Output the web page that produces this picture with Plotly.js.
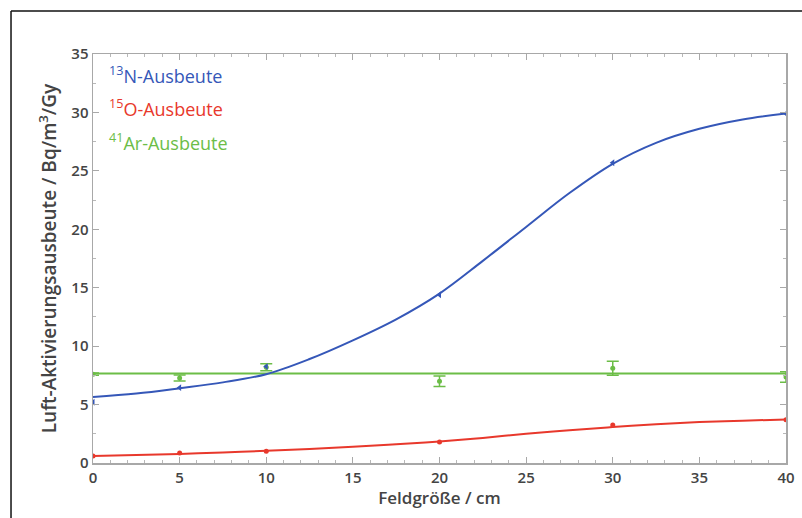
<!DOCTYPE html>
<html><head><meta charset="utf-8">
<script src="https://cdn.plot.ly/plotly-3.0.1.min.js"></script>
<style>html,body{margin:0;padding:0;background:#fff}#chart{width:802px;height:518px}</style>
</head><body><div id="chart"></div>
<script>
// Measured points
const xPts = [0, 5, 10, 20, 30, 40];
const nYield = [5.2, 6.45, 8.25, 14.4, 25.7, 29.9];
const oYield = [0.6, 0.85, 1.0, 1.8, 3.25, 3.7];
const arYield = [7.6, 7.27, 8.2, 7.0, 8.1, 7.35];
const arErr = [0.1, 0.25, 0.3, 0.45, 0.6, 0.45];
// Fitted curves
const xFit = [0, 2.5, 5, 7.5, 10, 12.5, 15, 17.5, 20, 22.5, 25, 27.5, 30, 32.5, 35, 37.5, 40];
const nFit = [5.65, 5.95, 6.4, 6.9, 7.6, 8.9, 10.5, 12.3, 14.5, 17.3, 20.2, 23.1, 25.6, 27.4, 28.6, 29.4, 29.9];
const oFit = [0.6, 0.68, 0.78, 0.9, 1.05, 1.2, 1.4, 1.6, 1.85, 2.15, 2.5, 2.8, 3.08, 3.32, 3.5, 3.62, 3.72];
const arFitX = [0, 40];
const arFit = [7.65, 7.65];
const xTicks = [0, 5, 10, 15, 20, 25, 30, 35, 40];
const yTicks = [0, 5, 10, 15, 20, 25, 30, 35];
const legendLabels = ['<sup>13</sup>N-Ausbeute', '<sup>15</sup>O-Ausbeute', '<sup>41</sup>Ar-Ausbeute'];

const cN = '#3557b8', cO = '#e8382c', cAr = '#6cbd47';
const FONT = 'Open Sans, sans-serif';

const traces = [
  {x: arFitX, y: arFit, mode: 'lines', line: {color: cAr, width: 2}},
  {x: xFit, y: oFit, mode: 'lines', line: {color: cO, width: 2, shape: 'spline'}},
  {x: xFit, y: nFit, mode: 'lines', line: {color: cN, width: 2, shape: 'spline'}},
  {x: xPts, y: arYield, mode: 'markers', marker: {color: cAr, size: 5},
   error_y: {type: 'data', array: arErr, visible: true, color: cAr, thickness: 1.5, width: 6}},
  {x: xPts, y: oYield, mode: 'markers', marker: {color: cO, size: 5}},
  {x: xPts, y: nYield, mode: 'markers', marker: {color: cN, size: 6, symbol: 'triangle-left'}}
];

const axisCommon = {
  showgrid: false, zeroline: false, showline: true, mirror: 'ticks',
  linecolor: '#a8a8a8', linewidth: 1.5, ticks: 'inside', ticklen: 6, tickcolor: '#a8a8a8',
  tickfont: {family: FONT, size: 15, color: '#444', weight: 600}
};

const layout = {
  width: 802, height: 518,
  margin: {l: 93, r: 16, t: 54, b: 55},
  paper_bgcolor: '#fff', plot_bgcolor: '#fff',
  showlegend: false,
  xaxis: Object.assign({}, axisCommon, {
    range: [0, 40], tickvals: xTicks, ticktext: xTicks.map(String),
    minor: {dtick: 1, ticks: 'inside', ticklen: 3, tickcolor: '#b8b8b8'},
    title: {text: 'Feldgröße / cm', standoff: 5, font: {family: FONT, size: 17, color: '#444', weight: 600}}
  }),
  yaxis: Object.assign({}, axisCommon, {
    range: [0, 35], tickvals: yTicks, ticktext: yTicks.map(String),
    minor: {dtick: 2.5, ticks: 'inside', ticklen: 3, tickcolor: '#b8b8b8'},
    title: {text: 'Luft-Aktivierungsausbeute / Bq/m<sup>3</sup>/Gy', standoff: 9, font: {family: FONT, size: 19, color: '#444', weight: 600}}
  }),
  annotations: [
    {text: legendLabels[0], color: cN, y: 33.2},
    {text: legendLabels[1], color: cO, y: 30.4},
    {text: legendLabels[2], color: cAr, y: 27.5}
  ].map(a => ({
    text: a.text, x: 0.8, y: a.y, xref: 'x', yref: 'y', xanchor: 'left', yanchor: 'middle',
    showarrow: false, font: {family: FONT, size: 18, color: a.color}
  })),
  shapes: [
    {type: 'line', xref: 'paper', yref: 'paper', x0: -0.1183, x1: -0.1183, y0: -0.2, y1: 1.105, line: {color: '#111', width: 1.5}},
    {type: 'line', xref: 'paper', yref: 'paper', x0: -0.1183, x1: 1.1, y0: 1.105, y1: 1.105, line: {color: '#111', width: 1.5}}
  ]
};

Plotly.newPlot('chart', traces, layout, {displayModeBar: false, staticPlot: true});
</script>
</body></html>
